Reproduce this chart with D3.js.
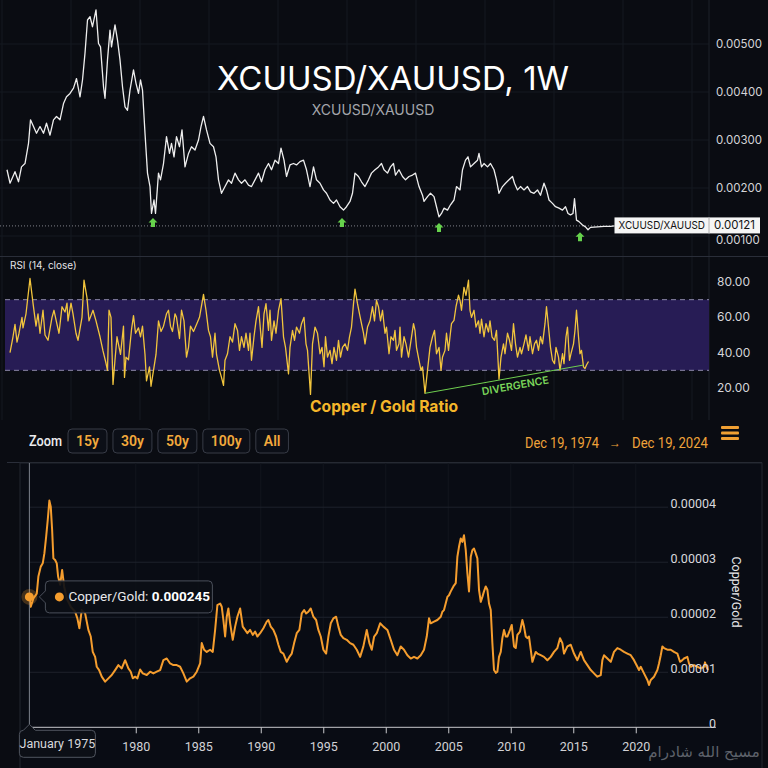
<!DOCTYPE html>
<html>
<head>
<meta charset="utf-8">
<script src="https://cdn.jsdelivr.net/npm/d3@7"></script>
<style>
  body { margin: 0; background: #0a0c12; }
  svg { display: block; }
</style>
</head>
<body>
<div id="chart"></div>
<script>
// ---- data ----

// weekly XCUUSD/XAUUSD, [week index, ratio in units of 1e-3]
var priceUnit = 1e-3;
var priceSeries = [
  [0,2.38],[6,2.10],[16,2.34],[23,2.13],[29,2.44],[36,2.51],[43,2.93],[47,3.42],[53,3.28],[59,3.14],
  [66,3.28],[73,3.14],[79,3.35],[86,3.10],[93,3.42],[99,3.49],[106,3.42],[113,3.76],[119,3.90],[126,3.97],
  [133,4.08],[139,4.28],[146,3.90],[151,4.25],[156,4.81],[161,5.50],[166,5.57],[171,5.36],[178,5.71],[183,5.01],
  [187,4.94],[193,4.11],[196,3.87],[201,4.67],[206,5.29],[209,4.94],[216,5.40],[221,5.08],[226,4.67],[231,4.11],
  [236,3.69],[241,3.62],[246,4.04],[253,4.46],[258,4.18],[263,3.97],[267,4.25],[271,4.04],[276,3.14],[281,2.31],
  [286,2.03],[289,1.47],[294,1.75],[297,1.47],[303,2.31],[307,2.17],[313,2.51],[319,3.07],[325,2.72],[329,2.93],
  [334,2.65],[339,3.07],[345,2.86],[350,3.21],[356,2.44],[363,2.72],[369,2.86],[376,2.79],[383,3.00],[388,3.28],
  [393,3.49],[399,3.21],[406,2.93],[413,2.86],[418,2.65],[423,2.17],[429,1.89],[436,2.03],[443,2.17],[449,2.10],
  [456,2.31],[463,2.17],[469,2.10],[476,2.17],[483,2.06],[489,2.03],[496,2.17],[503,2.31],[509,2.13],[516,2.38],
  [523,2.51],[529,2.38],[536,2.58],[543,2.51],[548,2.83],[554,2.58],[559,2.24],[566,2.48],[573,2.51],[579,2.48],
  [586,2.55],[593,2.58],[599,2.38],[606,2.03],[613,2.44],[619,2.17],[626,2.10],[633,1.96],[639,1.89],[646,1.75],
  [653,1.68],[659,1.75],[666,1.61],[673,1.54],[679,1.61],[686,1.72],[691,1.89],[696,2.31],[703,2.24],[709,2.13],
  [716,2.03],[723,2.17],[729,2.31],[736,2.38],[743,2.44],[749,2.51],[754,2.38],[761,2.31],[767,2.44],[773,2.51],
  [777,2.27],[784,2.38],[791,2.24],[797,2.17],[804,2.24],[811,2.27],[817,2.31],[824,2.03],[831,1.85],[834,1.72],
  [841,1.82],[847,1.89],[854,1.82],[859,1.61],[864,1.40],[869,1.47],[874,1.58],[881,1.54],[887,1.65],[894,1.75],
  [899,2.03],[906,1.96],[911,2.38],[917,2.58],[922,2.65],[927,2.44],[934,2.51],[941,2.58],[944,2.72],[949,2.44],
  [954,2.51],[961,2.44],[967,2.51],[974,2.38],[979,2.17],[984,1.89],[991,2.03],[997,2.10],[1004,2.17],[1011,2.24],
  [1015,2.10],[1021,1.96],[1027,2.03],[1034,1.96],[1041,2.03],[1047,1.92],[1054,1.89],[1061,1.96],[1067,1.85],[1074,2.10],
  [1079,1.96],[1084,1.75],[1091,1.68],[1097,1.61],[1104,1.58],[1111,1.54],[1117,1.61],[1122,1.47],[1127,1.44],[1132,1.47],
  [1135,1.78],[1139,1.33],[1144,1.30],[1151,1.23],[1157,1.19],[1162,1.13],[1167,1.18],[1181,1.19],[1194,1.20],[1207,1.20],
  [1215,1.21]
];
var lastPrice = 0.00121;
var priceTicks = [0.001, 0.002, 0.003, 0.004, 0.005];

// green arrows under the lows: week index and level (1e-3)
var arrowWeeks = [292, 670, 864, 1146];
var arrowLevels = [1.375, 1.375, 1.27, 1.08];

// RSI(14): [week index, value]
var rsiSeries = [
  [6,40],[12,49],[16,56],[20,46],[24,51],[30,60],[32,54],[38,62],[46,82],[52,68],[58,55],[62,62],[66,51],[72,64],
  [76,50],[82,47],[90,60],[94,64],[100,56],[104,51],[110,66],[116,63],[120,68],[122,58],[128,68],[132,62],[138,51],
  [142,47],[150,60],[154,81],[160,71],[164,58],[172,64],[178,58],[186,49],[192,41],[198,34],[201,30],[204,64],
  [208,60],[212,22],[216,36],[220,49],[227,39],[233,55],[235,26],[238,37.5],[243,36],[249,53],[253,61],[257,51],
  [263,54],[267,49],[271,55],[276,39],[279,24],[285,32],[288,21],[293,30],[298,39],[303,58],[308,52],[313,55],
  [319,62],[323,64],[327,55],[331,52],[336,62],[339,60],[345,48],[349,64],[354,58],[359,37.5],[363,43],[367,55],
  [373,52],[379,56],[385,60],[393,73],[398,64],[403,52.6],[407,49],[411,37.5],[416,51],[419,39],[425,30],[429,26],
  [433,21.5],[436,35.7],[441,39.4],[446,49],[451,46],[456,56.4],[461,52.6],[465,41.3],[469,49],[474,43],[478,51],
  [483,41.3],[486,51],[489,35.7],[494,49],[498,58],[503,66],[507,52.6],[510,43],[514,62],[518,67.7],[523,52.6],
  [526,64],[529,47],[534,58],[538,51],[543,64],[548,70.6],[553,49],[557,43],[563,28],[566,43],[571,52.6],[575,47],
  [579,54.5],[585,51],[589,56.4],[594,60],[598,45],[601,41.3],[607,16.4],[611,45],[616,54.5],[621,51],[626,39.4],
  [630,43],[634,32],[637,49],[641,37.5],[646,41.3],[650,33.8],[654,43],[659,35.7],[663,47],[667,37.5],[671,43],
  [676,45],[681,41.3],[685,49],[689,54.5],[693,67.7],[696,76],[701,67.7],[705,62],[709,56.4],[713,51],[716,45],
  [721,54.5],[726,58],[731,66],[735,58],[739,69.6],[743,66],[747,58],[751,64],[756,51],[759,54.5],[764,39.4],
  [768,49],[773,47],[776,52.6],[779,41.3],[784,45],[786,54.5],[789,37.5],[794,49],[798,45],[803,37.5],[807,45],
  [813,56.4],[816,52.6],[819,43],[824,35.7],[828,30],[831,32],[836,17],[841,30],[846,43],[851,49],[855,52.6],
  [859,39.4],[864,43],[868,30],[871,37.5],[876,41.3],[879,51],[883,41.3],[886,49],[889,56.4],[894,58.3],[898,66],
  [903,72.5],[906,69.6],[909,64],[914,77],[918,72.5],[923,81],[926,64],[929,60],[934,64],[938,54.5],[943,58],
  [946,51],[949,59],[954,49],[958,56.4],[963,51.7],[966,58],[970,49],[975,47],[979,52.6],[984,25],[988,37.5],
  [993,45],[996,39.4],[1001,51],[1005,47],[1009,41.3],[1013,56.4],[1017,45],[1021,37.5],[1026,43],[1029,39.4],
  [1034,45],[1038,50],[1043,41.3],[1046,49],[1051,39.4],[1055,45],[1059,47],[1063,41.3],[1067,49],[1071,45],
  [1076,56.4],[1079,66],[1083,54.5],[1087,43],[1091,35.7],[1095,33.8],[1098,43],[1103,37.5],[1106,30],[1111,39.4],
  [1114,33.8],[1118,49],[1121,54.5],[1125,35.7],[1128,39.4],[1133,45],[1136,52.6],[1139,64],[1143,49],[1146,39.4],
  [1149,41.3],[1153,32],[1156,31],[1159,33],[1163,35]
];
var rsiTicks = [20, 40, 60, 80];
var rsiBands = [70, 30];
var divergence = [[836, 17], [1153, 33]];

// Copper/Gold ratio: [decimal year, value in units of 1e-5]
var ratioUnit = 1e-5;
var ratioSeries = [
  [1971.49,2.37],[1971.6,2.19],[1971.81,2.34],[1972.08,2.43],[1972.21,2.74],[1972.40,2.92],[1972.56,2.98],[1972.69,3.16],
  [1972.83,3.46],[1972.96,3.77],[1973.09,4.12],[1973.20,4.01],[1973.31,3.59],[1973.41,3.07],[1973.55,3.04],[1973.68,2.98],
  [1973.79,2.74],[1973.95,2.59],[1974.11,2.86],[1974.27,2.56],[1974.48,2.34],[1974.80,2.19],[1975.15,2.10],[1975.33,1.98],
  [1975.49,1.80],[1975.68,2.13],[1975.95,2.07],[1976.21,1.77],[1976.40,1.65],[1976.56,1.37],[1976.75,1.28],[1976.88,1.10],
  [1977.07,1.04],[1977.28,0.92],[1977.55,0.83],[1977.81,0.89],[1978.08,0.95],[1978.35,1.04],[1978.61,1.13],[1978.88,1.07],
  [1979.15,1.22],[1979.41,1.07],[1979.60,1.01],[1979.76,0.89],[1979.95,0.92],[1980.13,0.89],[1980.35,1.05],[1980.56,0.98],
  [1980.88,0.95],[1981.15,1.01],[1981.41,0.98],[1981.68,1.01],[1981.95,1.04],[1982.21,1.22],[1982.48,1.25],[1982.75,1.16],
  [1983.01,1.13],[1983.28,1.13],[1983.55,1.10],[1983.81,0.98],[1984.08,0.83],[1984.35,0.89],[1984.61,0.92],[1984.88,1.01],
  [1985.15,1.16],[1985.28,1.53],[1985.47,1.41],[1985.68,1.37],[1985.95,1.41],[1986.16,1.37],[1986.35,1.77],[1986.53,2.22],
  [1986.75,2.25],[1986.88,2.19],[1987.01,1.95],[1987.15,1.65],[1987.28,2.01],[1987.41,2.16],[1987.55,1.89],[1987.76,1.59],
  [1987.95,1.83],[1988.13,2.01],[1988.35,2.16],[1988.56,1.83],[1988.75,1.77],[1988.93,1.71],[1989.15,1.77],[1989.36,1.68],
  [1989.55,1.74],[1989.73,1.65],[1989.95,1.71],[1990.21,1.80],[1990.48,1.92],[1990.61,1.95],[1990.80,1.83],[1991.01,1.77],
  [1991.23,1.65],[1991.41,1.50],[1991.60,1.37],[1991.81,1.34],[1992.08,1.19],[1992.29,1.28],[1992.48,1.34],[1992.67,1.53],
  [1992.88,1.71],[1993.09,1.77],[1993.28,2.07],[1993.47,2.13],[1993.63,2.07],[1993.81,2.10],[1994.00,2.16],[1994.21,2.01],
  [1994.43,1.95],[1994.61,1.77],[1994.80,1.65],[1995.01,1.41],[1995.23,1.34],[1995.41,1.65],[1995.60,1.89],[1995.81,1.98],
  [1996.03,2.01],[1996.21,1.83],[1996.40,1.68],[1996.61,1.62],[1996.88,1.59],[1997.15,1.53],[1997.41,1.50],[1997.68,1.41],
  [1997.95,1.28],[1998.21,1.47],[1998.48,1.77],[1998.69,1.53],[1998.88,1.41],[1999.07,1.65],[1999.28,1.71],[1999.55,1.89],
  [1999.81,1.83],[2000.13,1.77],[2000.40,1.59],[2000.66,1.41],[2000.93,1.31],[2001.20,1.47],[2001.46,1.41],[2001.73,1.31],
  [2002.00,1.25],[2002.26,1.28],[2002.53,1.25],[2002.80,1.31],[2003.06,1.41],[2003.28,1.65],[2003.46,1.98],[2003.60,1.89],
  [2003.86,1.92],[2004.13,1.95],[2004.40,2.01],[2004.53,2.10],[2004.66,2.13],[2004.93,2.37],[2005.06,2.40],[2005.20,2.47],
  [2005.41,2.56],[2005.60,2.62],[2005.73,3.10],[2005.86,3.28],[2006.00,3.43],[2006.13,3.37],[2006.26,3.49],[2006.40,3.22],
  [2006.53,2.80],[2006.66,2.47],[2006.80,3.10],[2006.93,3.22],[2007.06,3.25],[2007.20,3.16],[2007.33,3.07],[2007.46,2.50],
  [2007.60,2.28],[2007.73,2.37],[2007.86,2.47],[2008.00,2.56],[2008.13,2.50],[2008.26,2.25],[2008.40,2.13],[2008.53,1.53],
  [2008.66,1.04],[2008.80,0.99],[2008.93,1.01],[2009.06,1.28],[2009.20,1.37],[2009.33,1.62],[2009.46,1.77],[2009.60,1.65],
  [2009.73,1.65],[2009.94,1.77],[2010.08,1.86],[2010.26,1.47],[2010.40,1.44],[2010.53,1.68],[2010.74,1.74],[2010.93,1.95],
  [2011.06,1.83],[2011.20,1.65],[2011.33,1.62],[2011.46,1.65],[2011.60,1.41],[2011.73,1.19],[2011.86,1.28],[2012.00,1.37],
  [2012.13,1.34],[2012.40,1.31],[2012.66,1.28],[2012.93,1.22],[2013.20,1.28],[2013.46,1.37],[2013.73,1.44],[2013.94,1.62],
  [2014.13,1.53],[2014.26,1.34],[2014.53,1.47],[2014.80,1.50],[2015.06,1.34],[2015.33,1.22],[2015.60,1.37],[2015.86,1.22],
  [2016.13,1.13],[2016.40,1.04],[2016.66,0.98],[2016.93,0.92],[2017.20,0.95],[2017.33,1.22],[2017.46,1.31],[2017.73,1.25],
  [2018.00,1.19],[2018.26,1.37],[2018.53,1.44],[2018.80,1.41],[2019.06,1.37],[2019.33,1.34],[2019.60,1.31],[2019.86,1.22],
  [2020.13,1.10],[2020.26,1.04],[2020.40,1.10],[2020.66,0.98],[2020.93,0.86],[2021.06,0.77],[2021.20,0.86],[2021.46,0.92],
  [2021.73,1.04],[2021.86,1.16],[2022.00,1.31],[2022.13,1.47],[2022.26,1.44],[2022.53,1.41],[2022.80,1.41],[2023.06,1.37],
  [2023.33,1.34],[2023.54,1.19],[2023.73,1.22],[2023.86,1.25],[2024.13,1.28],[2024.26,1.16],[2024.40,1.10],[2024.66,1.13],
  [2024.93,1.10],[2025.20,1.07],[2025.46,1.10],[2025.54,1.18],[2025.65,1.10],[2025.78,1.04]
];
var ratioTicks = [0, 0.00001, 0.00002, 0.00003, 0.00004];
var yearTicks = [1980, 1985, 1990, 1995, 2000, 2005, 2010, 2015, 2020];
var zoomButtons = ["15y", "30y", "50y", "100y", "All"];
var dateFrom = "Dec 19, 1974";
var dateTo = "Dec 19, 2024";
var tooltipLabel = "Copper/Gold: ";
var tooltipValue = "0.000245";
var crosshairLabel = "January 1975";

// ---- svg ----
var svg = d3.select("#chart")
    .append("svg")
    .attr("width", 768)
    .attr("height", 768);

svg.append("rect").attr("width", 768).attr("height", 768).attr("fill", "#0a0c12");

var sans = "Inter, 'Noto Sans', sans-serif";

// ===== top panel: price =====
var topRight = 709;
var xTop = d3.scaleLinear().domain([-14, 1404]).range([0, topRight]);
var yPrice = d3.scaleLinear().domain([0.001, 0.005]).range([236, 44]);
var yRsi = d3.scaleLinear().domain([20, 80]).range([388, 282]);

var priceG = svg.append("g");

// faint grid
priceG.selectAll(".vgrid")
    .data(d3.range(-10, 1404, 138))
    .enter().append("line")
    .attr("x1", d => xTop(d)).attr("x2", d => xTop(d))
    .attr("y1", 0).attr("y2", 420)
    .attr("stroke", "#151821").attr("stroke-width", 1);

priceG.selectAll(".hgrid")
    .data(priceTicks)
    .enter().append("line")
    .attr("x1", 0).attr("x2", topRight)
    .attr("y1", d => yPrice(d)).attr("y2", d => yPrice(d))
    .attr("stroke", "#151821");

priceG.append("line")
    .attr("x1", topRight).attr("x2", topRight).attr("y1", 0).attr("y2", 420)
    .attr("stroke", "#1d2029");

// last value dotted line
priceG.append("line")
    .attr("x1", 0).attr("x2", topRight)
    .attr("y1", yPrice(lastPrice)).attr("y2", yPrice(lastPrice))
    .attr("stroke", "#8d8f96").attr("stroke-width", 0.9)
    .attr("stroke-dasharray", "1,2");

var priceLine = d3.line()
    .x(d => xTop(d[0]))
    .y(d => yPrice(d[1] * priceUnit));

priceG.append("path")
    .datum(priceSeries)
    .attr("d", priceLine)
    .attr("fill", "none")
    .attr("stroke", "#eeeeee")
    .attr("stroke-width", 1.3)
    .attr("stroke-linejoin", "round");

// green arrows
priceG.selectAll(".arrow")
    .data(arrowWeeks)
    .enter().append("path")
    .attr("transform", (d, i) => `translate(${xTop(d)}, ${yPrice(arrowLevels[i] * priceUnit)})`)
    .attr("d", "M0,0 L-4.5,4.5 L-2,4.5 L-2,9 L2,9 L2,4.5 L4.5,4.5 Z")
    .attr("fill", "#66d24c");

// title
priceG.append("text")
    .attr("x", 393).attr("y", 90)
    .attr("text-anchor", "middle")
    .attr("font-family", sans).attr("font-size", 33)
    .attr("fill", "#ffffff")
    .text("XCUUSD/XAUUSD, 1W");

priceG.append("text")
    .attr("x", 373).attr("y", 115)
    .attr("text-anchor", "middle")
    .attr("font-family", sans).attr("font-size", 14)
    .attr("fill", "#a3a5ab")
    .text("XCUUSD/XAUUSD");

// price axis labels (the lowest one sits just under the last-value box)
priceG.selectAll(".ptick")
    .data(priceTicks)
    .enter().append("text")
    .attr("x", 716).attr("y", d => yPrice(d) + (d === priceTicks[0] ? 8 : 4))
    .attr("font-family", sans).attr("font-size", 11.5)
    .attr("fill", "#d4d4d8")
    .text(d => d3.format(".5f")(d));

// last value label box
var lastY = yPrice(lastPrice);
var lastX = xTop(priceSeries[priceSeries.length - 1][0]);
priceG.append("rect")
    .attr("x", lastX).attr("y", lastY - 8.5)
    .attr("width", 760 - lastX).attr("height", 16)
    .attr("fill", "#f5f5f5");
priceG.append("line")
    .attr("x1", topRight).attr("x2", topRight)
    .attr("y1", lastY - 8.5).attr("y2", lastY + 7.5)
    .attr("stroke", "#b0b0b0");
priceG.append("text")
    .attr("x", lastX + 4).attr("y", lastY + 3.5)
    .attr("font-family", sans).attr("font-size", 11)
    .attr("fill", "#131313")
    .attr("textLength", topRight - lastX - 8).attr("lengthAdjust", "spacingAndGlyphs")
    .text("XCUUSD/XAUUSD");
priceG.append("text")
    .attr("x", topRight + 5).attr("y", lastY + 3.5)
    .attr("font-family", sans).attr("font-size", 11.5)
    .attr("fill", "#131313")
    .text(d3.format(".5f")(lastPrice));

// panel separator
svg.append("line")
    .attr("x1", 0).attr("x2", 768).attr("y1", 256.5).attr("y2", 256.5)
    .attr("stroke", "#2a2e39");

// ===== RSI panel =====
var rsiG = svg.append("g");

rsiG.append("rect")
    .attr("x", 5).attr("width", topRight - 5)
    .attr("y", yRsi(rsiBands[0]))
    .attr("height", yRsi(rsiBands[1]) - yRsi(rsiBands[0]))
    .attr("fill", "#271c55");

rsiG.selectAll(".band")
    .data(rsiBands)
    .enter().append("line")
    .attr("x1", 5).attr("x2", topRight)
    .attr("y1", d => yRsi(d)).attr("y2", d => yRsi(d))
    .attr("stroke", "#aaa6c6").attr("stroke-width", 0.8)
    .attr("stroke-dasharray", "5,4");

var rsiLine = d3.line()
    .x(d => xTop(d[0]))
    .y(d => yRsi(d[1]));

rsiG.append("path")
    .datum(rsiSeries)
    .attr("d", rsiLine)
    .attr("fill", "none")
    .attr("stroke", "#f2c53d")
    .attr("stroke-width", 1.3)
    .attr("stroke-linejoin", "round");

rsiG.append("line")
    .attr("x1", xTop(divergence[0][0])).attr("y1", yRsi(divergence[0][1]))
    .attr("x2", xTop(divergence[1][0])).attr("y2", yRsi(divergence[1][1]))
    .attr("stroke", "#6fcf4f").attr("stroke-width", 1);

var dvx = xTop(divergence[1][0]) - xTop(divergence[0][0]);
var dvy = yRsi(divergence[1][1]) - yRsi(divergence[0][1]);
var dvAngle = Math.atan2(dvy, dvx) * 180 / Math.PI;
var dvMidX = xTop(divergence[0][0]) + dvx * 0.56;
var dvMidY = yRsi(divergence[0][1]) + dvy * 0.56;
rsiG.append("text")
    .attr("transform", `translate(${dvMidX}, ${dvMidY}) rotate(${dvAngle})`)
    .attr("y", 12)
    .attr("text-anchor", "middle")
    .attr("font-family", sans).attr("font-size", 10.5).attr("font-weight", 600)
    .attr("fill", "#7bd65a")
    .text("DIVERGENCE");

rsiG.append("text")
    .attr("x", 10).attr("y", 269)
    .attr("font-family", sans).attr("font-size", 10)
    .attr("fill", "#e2e2e6")
    .text("RSI (14, close)");

rsiG.selectAll(".rtick")
    .data(rsiTicks)
    .enter().append("text")
    .attr("x", 717).attr("y", d => yRsi(d) + 4)
    .attr("font-family", sans).attr("font-size", 12)
    .attr("fill", "#d4d4d8")
    .text(d => d3.format(".2f")(d));

rsiG.append("text")
    .attr("x", 384).attr("y", 412)
    .attr("text-anchor", "middle")
    .attr("font-family", sans).attr("font-size", 16).attr("font-weight", 700)
    .attr("fill", "#f4b62a")
    .attr("textLength", 148).attr("lengthAdjust", "spacingAndGlyphs")
    .text("Copper / Gold Ratio");

// ===== zoom bar =====
var bar = svg.append("g").attr("font-family", "Roboto, sans-serif");
var barY = 441;

bar.append("text")
    .attr("x", 29).attr("y", barY + 5)
    .attr("font-size", 14).attr("font-weight", 500).attr("fill", "#ececee")
    .attr("textLength", 33).attr("lengthAdjust", "spacingAndGlyphs")
    .text("Zoom");

var bx = 68;
zoomButtons.forEach(function(label) {
    var g = bar.append("g");
    var t = g.append("text")
        .attr("y", barY + 5)
        .attr("font-size", 14).attr("font-weight", 600).attr("fill", "#f2a93c")
        .attr("text-anchor", "middle")
        .text(label);
    var w = t.node().getComputedTextLength() + 16;
    t.attr("x", bx + w / 2);
    g.insert("rect", "text")
        .attr("x", bx).attr("y", barY - 12)
        .attr("width", w).attr("height", 24).attr("rx", 4)
        .attr("fill", "#0c0f17").attr("stroke", "#383c47");
    bx += w + 6;
});

bar.append("text")
    .attr("x", 525).attr("y", barY + 7)
    .attr("font-size", 14).attr("fill", "#f0a33a")
    .attr("textLength", 74).attr("lengthAdjust", "spacingAndGlyphs")
    .text(dateFrom);
bar.append("text")
    .attr("x", 615).attr("y", barY + 6)
    .attr("text-anchor", "middle")
    .attr("font-size", 12).attr("fill", "#f0a33a")
    .text("→");
bar.append("text")
    .attr("x", 632).attr("y", barY + 7)
    .attr("font-size", 14).attr("fill", "#f0a33a")
    .attr("textLength", 76).attr("lengthAdjust", "spacingAndGlyphs")
    .text(dateTo);

bar.selectAll(".menu")
    .data([0, 1, 2])
    .enter().append("rect")
    .attr("x", 721).attr("y", d => 426 + d * 5.5)
    .attr("width", 18).attr("height", 3).attr("rx", 1)
    .attr("fill", "#f0a033");

svg.append("line")
    .attr("x1", 7).attr("x2", 762).attr("y1", 462.5).attr("y2", 462.5)
    .attr("stroke", "#2a2e39");

// ===== bottom chart =====
var bot = svg.append("g").attr("font-family", "Roboto, sans-serif");

bot.append("rect")
    .attr("x", 20).attr("y", 463).attr("width", 742).attr("height", 320)
    .attr("fill", "#090c14").attr("stroke", "#22262f");

var xBot = d3.scaleLinear().domain([1971.46, 2026.42]).range([29, 716]);
var yBot = d3.scaleLinear().domain([0, 0.00004]).range([727.3, 507.2]);

bot.selectAll(".bvgrid")
    .data(yearTicks)
    .enter().append("line")
    .attr("x1", d => xBot(d)).attr("x2", d => xBot(d))
    .attr("y1", 463).attr("y2", yBot(0))
    .attr("stroke", "#12151d");

bot.selectAll(".bhgrid")
    .data(ratioTicks.slice(1))
    .enter().append("line")
    .attr("x1", xBot.range()[0]).attr("x2", 668)
    .attr("y1", d => yBot(d)).attr("y2", d => yBot(d))
    .attr("stroke", "#1e222c");

var ratioLine = d3.line()
    .x(d => xBot(d[0]))
    .y(d => yBot(d[1] * ratioUnit));

bot.append("path")
    .datum(ratioSeries)
    .attr("d", ratioLine)
    .attr("fill", "none")
    .attr("stroke", "#f59d2e")
    .attr("stroke-width", 2)
    .attr("stroke-linejoin", "round");

// x axis
var xAxis = d3.axisBottom(xBot)
    .tickValues(yearTicks)
    .tickFormat(d3.format("d"))
    .tickSize(6)
    .tickPadding(9);

var xg = bot.append("g")
    .attr("transform", `translate(0, ${yBot(0)})`)
    .call(xAxis);
xg.select(".domain").attr("stroke", "#c9c9cc").attr("d", `M${xBot.range()[0]},0H${xBot.range()[1]}`);
xg.selectAll(".tick line").attr("stroke", "#c9c9cc");
xg.selectAll(".tick text").attr("fill", "#d2d2d6").attr("font-size", 12.5).attr("font-family", "Roboto, sans-serif");

// y labels
bot.selectAll(".ytick")
    .data(ratioTicks)
    .enter().append("text")
    .attr("x", 716).attr("y", d => yBot(d) + 1)
    .attr("text-anchor", "end")
    .attr("font-size", 12.5).attr("fill", "#d8d8dc")
    .text(d => d === 0 ? "0" : d3.format(".5f")(d));

bot.append("text")
    .attr("transform", "translate(732, 592) rotate(90)")
    .attr("text-anchor", "middle")
    .attr("font-size", 12.5).attr("fill", "#e8e8ea")
    .text("Copper/Gold");

// crosshair on first point
var first = ratioSeries[0];
var hx = xBot(first[0]);
var hy = yBot(first[1] * ratioUnit);

bot.append("line")
    .attr("x1", hx).attr("x2", hx).attr("y1", 463).attr("y2", yBot(0))
    .attr("stroke", "#7d828c").attr("stroke-width", 1);

bot.append("circle").attr("cx", hx).attr("cy", hy).attr("r", 8)
    .attr("fill", "#f59d2e").attr("opacity", 0.25);
bot.append("circle").attr("cx", hx).attr("cy", hy).attr("r", 4.5)
    .attr("fill", "#f59d2e");

// tooltip
var tx = hx + 16, tw = 167, th = 32;
bot.append("path")
    .attr("d", `M${tx + 4},${hy - th / 2} H${tx + tw - 4} Q${tx + tw},${hy - th / 2} ${tx + tw},${hy - th / 2 + 4}
        V${hy + th / 2 - 4} Q${tx + tw},${hy + th / 2} ${tx + tw - 4},${hy + th / 2} H${tx + 4}
        Q${tx},${hy + th / 2} ${tx},${hy + th / 2 - 4} V${hy + 6} L${tx - 6},${hy} L${tx},${hy - 6}
        V${hy - th / 2 + 4} Q${tx},${hy - th / 2} ${tx + 4},${hy - th / 2} Z`)
    .attr("fill", "#0c0f16").attr("fill-opacity", 0.92)
    .attr("stroke", "#4b505b");

bot.append("circle").attr("cx", tx + 14).attr("cy", hy).attr("r", 4.5).attr("fill", "#f59d2e");

var tt = bot.append("text")
    .attr("x", tx + 23).attr("y", hy + 4.5)
    .attr("font-size", 13.5).attr("fill", "#e8e8ea");
tt.append("tspan").text(tooltipLabel);
tt.append("tspan").attr("font-weight", 700).attr("fill", "#ffffff").text(tooltipValue);

// crosshair date label
var ly = yBot(0) + 1;
bot.append("path")
    .attr("d", `M${hx - 10 + 4},${ly + 2} H${hx - 6} L${hx},${ly - 4} L${hx + 6},${ly + 2} H${hx + 62}
        Q${hx + 66},${ly + 2} ${hx + 66},${ly + 6} V${ly + 25} Q${hx + 66},${ly + 29} ${hx + 62},${ly + 29}
        H${hx - 6} Q${hx - 10},${ly + 29} ${hx - 10},${ly + 25} V${ly + 6} Q${hx - 10},${ly + 2} ${hx - 6},${ly + 2} Z`)
    .attr("fill", "#0c0f16").attr("stroke", "#50555f");

bot.append("text")
    .attr("x", hx + 28).attr("y", ly + 20)
    .attr("text-anchor", "middle")
    .attr("font-size", 12.5).attr("fill", "#d8d8dc")
    .text(crosshairLabel);

// watermark
svg.append("text")
    .attr("x", 704).attr("y", 757)
    .attr("text-anchor", "middle")
    .attr("font-family", "'DejaVu Sans', sans-serif")
    .attr("font-size", 15)
    .attr("fill", "#5e626b")
    .text("مسیح الله شادرام");
</script>
</body>
</html>
